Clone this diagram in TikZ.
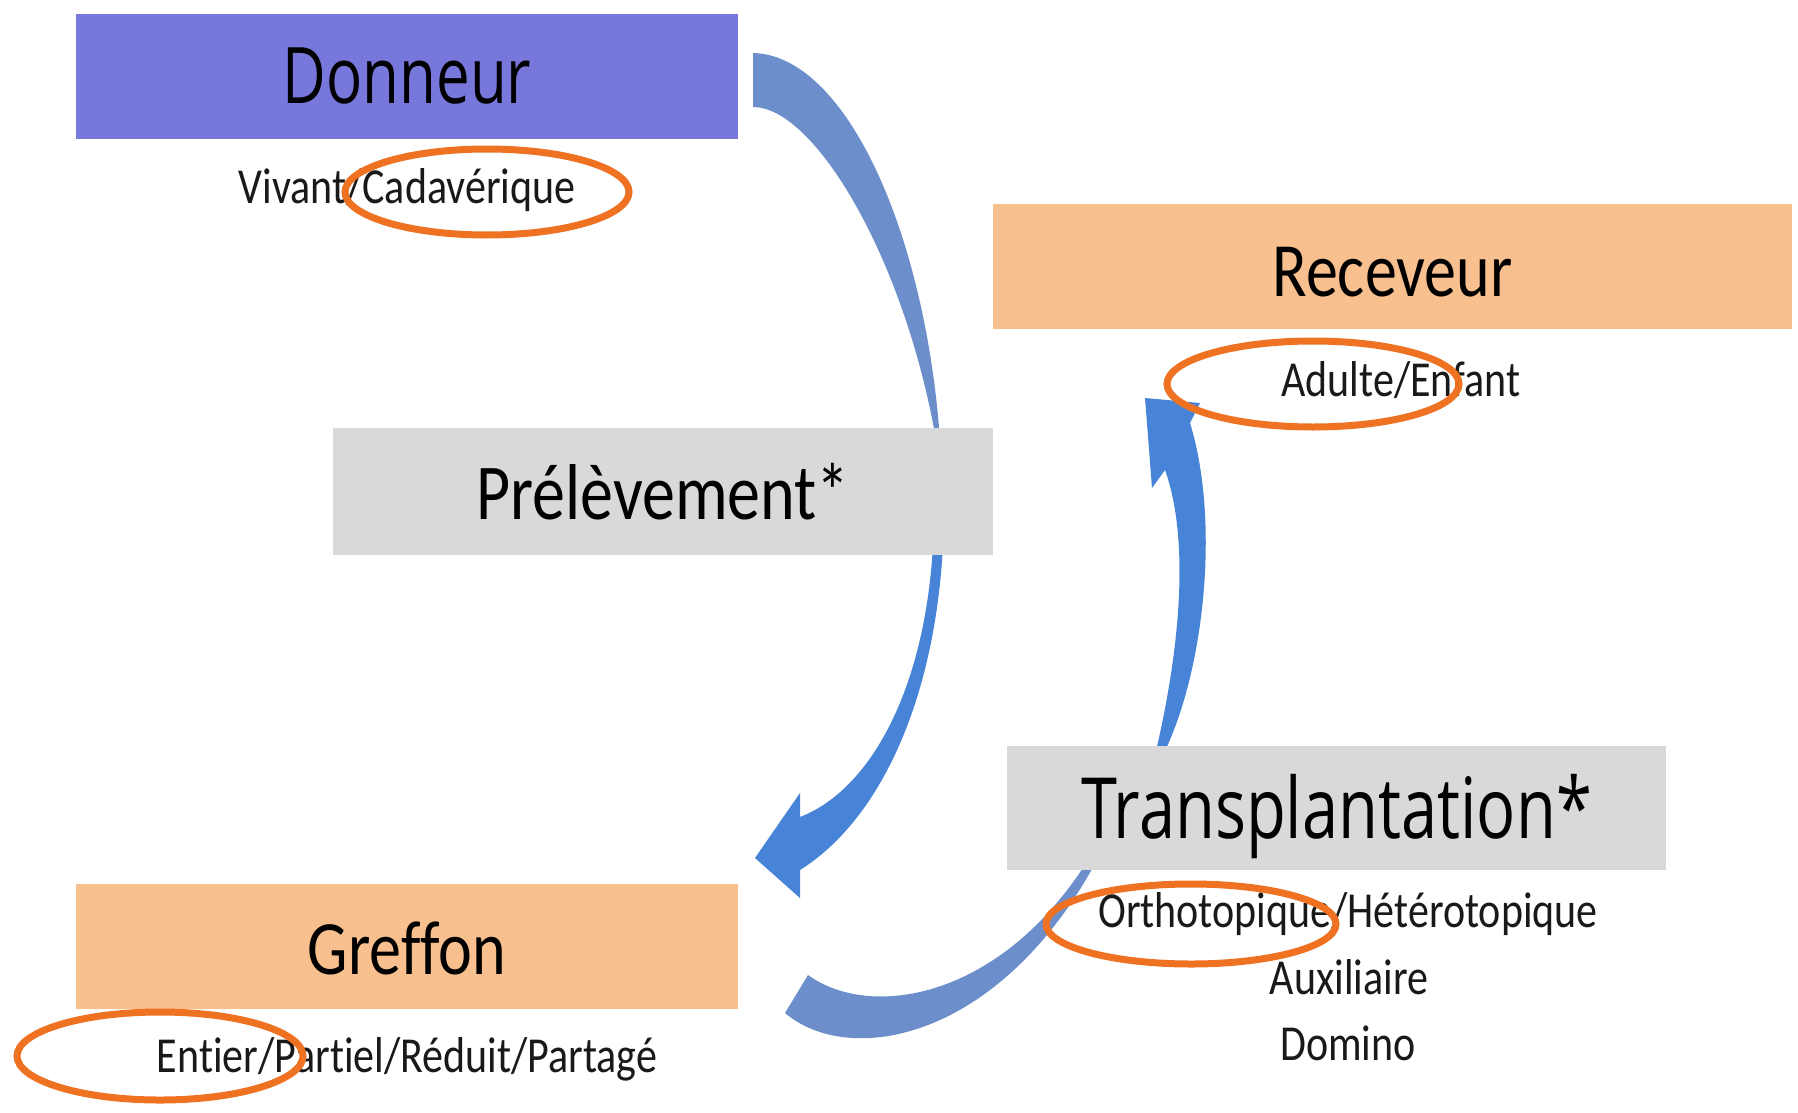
\documentclass[tikz,border=0pt]{standalone}
\usepackage{fontspec}
\usepackage{graphicx}
\setmainfont{Carlito}[Ligatures=NoCommon]
\newfontfamily\comicfont{Open Sans}
\definecolor{donblue}{HTML}{7878DC}
\definecolor{peach}{HTML}{F8BF8F}
\definecolor{greybox}{HTML}{D9D9D9}
\definecolor{ringorange}{HTML}{EE7222}
\definecolor{arrowgrey}{HTML}{6C8FCB}
\definecolor{arrowblue}{HTML}{4784D8}
\newcommand{\vstretch}[1]{\scalebox{1}[1.2]{#1}}
\newcommand{\cstretch}[1]{\scalebox{1}[1.3]{#1}}
\newcommand{\lowerby}[2]{\raisebox{-#1}[\height][\depth]{#2}}
\tikzset{
  hbox/.style={rectangle, inner sep=0pt, minimum height=125pt, text=black},
  calib/.style={font=\fontsize{64}{64}\selectfont},
  comic/.style={font=\comicfont\fontsize{60}{60}\selectfont},
  smalltxt/.style={inner sep=0pt, text=black!90, font=\fontsize{42}{42}\selectfont},
  ring/.style={draw=ringorange, line width=7pt},
  ribbonA/.style={fill=arrowgrey, draw=none},
  ribbonB/.style={fill=arrowblue, draw=none}
}
\begin{document}
\begin{tikzpicture}[x=1pt, y=-1pt]
\useasboundingbox (0,0) rectangle (1798,1113);
\fill[white] (0,0) rectangle (1798,1113);

% arrow 1 (Prelevement): top part
\path[ribbonA] (753,53) .. controls (845,55) and (925,230) .. (940,440)
  -- (936,440) .. controls (905,260) and (815,107) .. (753,107) -- cycle;
% arrow 1: lower part with head
\path[ribbonB] (933,545) -- (943,545) .. controls (935,700) and (880,820) .. (800,870)
  -- (800,898) -- (755,858) -- (800,793) -- (800,817)
  .. controls (870,790) and (925,690) .. (933,545) -- cycle;

% arrow 2 (Transplantation): lower part
\path[ribbonA] (808,975) -- (785,1013) .. controls (850,1068) and (1000,1040) .. (1097,860)
  -- (1088,860) .. controls (1000,1000) and (870,1020) .. (808,975) -- cycle;
% arrow 2: upper part with head
\path[ribbonB] (1155,755) .. controls (1180,650) and (1190,540) .. (1165,470)
  -- (1152,488) -- (1145,398) -- (1200,403) -- (1190,423)
  .. controls (1220,520) and (1205,670) .. (1163,755) -- cycle;

% boxes
\node[hbox, comic, fill=donblue, minimum width=662pt] (donneur) at (407,76.5) {\cstretch{Donneur}};
\node[hbox, calib, fill=peach, minimum width=799pt] (receveur) at (1392.5,266.5) {\lowerby{6pt}{\vstretch{Receveur}}};
\node[hbox, calib, fill=greybox, minimum width=660pt, minimum height=127pt, font=\fontsize{66}{66}\selectfont] (prelev) at (663,491.5) {\vstretch{Prélèvement*}};
\node[hbox, comic, fill=greybox, minimum width=659pt, minimum height=124pt, font=\comicfont\fontsize{65}{65}\selectfont] (transp) at (1336.5,808) {\lowerby{9pt}{\cstretch{Transplantation*}}};
\node[hbox, calib, fill=peach, minimum width=662pt] (greffon) at (407,946.5) {\lowerby{2pt}{\vstretch{Gref\kern0ptfon}}};

% sub texts
\node[smalltxt] (vivant) at (407,190) {\vstretch{Vivant/Cadavérique}};
\node[smalltxt] (adulte) at (1401,380) {\vstretch{Adulte/Enfant}};
\node[smalltxt] (ortho) at (1348,914) {\vstretch{Orthotopique/Hétérotopique}};
\node[smalltxt] (auxi) at (1349,977) {\vstretch{Auxiliaire}};
\node[smalltxt] (domino) at (1348,1043) {\vstretch{Domino}};
\node[smalltxt] (entier) at (407,1059) {\vstretch{Entier/Partiel/Réduit/Partagé}};

% orange rings
\draw[ring] (487,192) ellipse [x radius=142pt, y radius=43pt];
\draw[ring] (1313,384) ellipse [x radius=146pt, y radius=43pt];
\draw[ring] (1191,924) ellipse [x radius=145pt, y radius=40pt];
\draw[ring] (160,1056) ellipse [x radius=143pt, y radius=44pt];
\end{tikzpicture}
\end{document}
